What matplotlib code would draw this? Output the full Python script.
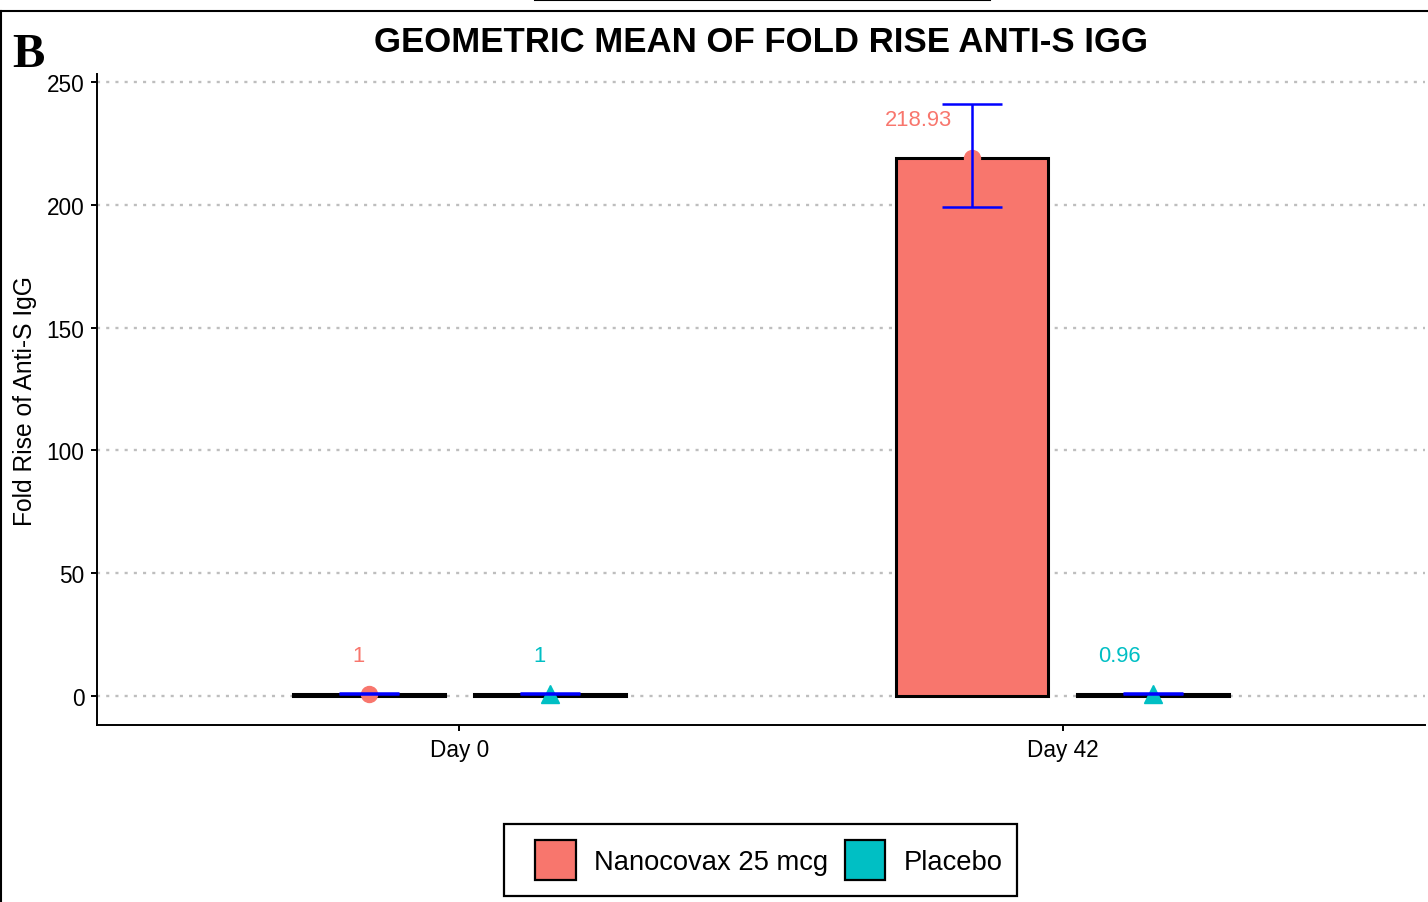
import matplotlib.pyplot as plt
from matplotlib.lines import Line2D
from matplotlib.patches import Patch, Rectangle
from matplotlib.transforms import offset_copy
import numpy as np

plt.rcParams['font.family'] = ['Liberation Sans', 'DejaVu Sans']

# ---------------- data ----------------
days = ['Day 0', 'Day 42']
groups = ['Nanocovax 25 mcg', 'Placebo']
gmfr_nano = [1.00, 218.93]
gmfr_plac = [1.00, 0.96]
ci_low_nano = [0.93, 199.2]
ci_high_nano = [1.07, 241.0]
ci_low_plac = [0.94, 0.90]
ci_high_plac = [1.06, 1.03]
labels_nano = ['1', '218.93']
labels_plac = ['1', '0.96']

col_nano = '#F8766D'
col_plac = '#00BFC4'

W, H = 1428, 903
fig = plt.figure(figsize=(W/100, H/100), dpi=100)
ax = fig.add_axes([97/W, 1-726/H, (1425-97)/W, (726-75)/H])

x = np.arange(1, len(days)+1)
dodge = 0.15
width = 0.252

series = [
    (gmfr_nano, ci_low_nano, ci_high_nano, labels_nano, col_nano, 'o', 11.5, -dodge),
    (gmfr_plac, ci_low_plac, ci_high_plac, labels_plac, col_plac, '^', 13, dodge),
]

texts = []
for vals, lo, hi, labs, col, mk, ms, off in series:
    xs = x + off
    vals = np.array(vals)
    ax.bar(xs, vals, width=width, color=col, edgecolor='black', linewidth=2.2, zorder=2)
    ax.plot(xs, vals, linestyle='none', marker=mk, markersize=ms, color=col, zorder=3)
    err = [vals - np.array(lo), np.array(hi) - vals]
    ax.errorbar(xs, vals, yerr=err, fmt='none', ecolor='#0000FF', elinewidth=1.8,
                capsize=21.5, capthick=1.8, zorder=4)
    for xi, v, lab in zip(xs, vals, labs):
        t = ax.text(xi, v, lab, color=col, fontsize=15.8, ha='right', va='center',
                    transform=offset_copy(ax.transData, fig, x=0, y=27.7, units='points'),
                    zorder=5)
        texts.append(t)

ax.set_xlim(0.4, 2.6)
ax.set_ylim(-11.81, 253.26)
ax.set_xticks(x)
ax.set_xticklabels(days)
ax.set_yticks([0, 50, 100, 150, 200, 250])

ax.yaxis.grid(True, color='#BEBEBE', linewidth=1.7, linestyle=(0, (1.3, 2.6)))
ax.set_axisbelow(True)

for s in ['top', 'right']:
    ax.spines[s].set_visible(False)
for s in ['left', 'bottom']:
    ax.spines[s].set_linewidth(1.4)
ax.tick_params(axis='both', length=4, width=1.4, labelsize=16.3, pad=5, colors='black')

fig.text(761/W, 1-42/H, 'GEOMETRIC MEAN OF FOLD RISE ANTI-S IGG',
         fontsize=25, fontweight='bold', ha='center', va='center')
fig.text(25/W, 1-401/H, 'Fold Rise of Anti-S IgG', fontsize=17.7,
         rotation=90, ha='center', va='center')
fig.text(12/W, 1-67/H, 'B', family='Liberation Serif', fontweight='bold',
         fontsize=35, ha='left', va='baseline')

handles = [Patch(facecolor=col_nano, edgecolor='black', linewidth=1.6),
           Patch(facecolor=col_plac, edgecolor='black', linewidth=1.6)]
leg = fig.legend(handles, groups, loc='center', bbox_to_anchor=(769/W, 1-861/H),
                 ncol=2, fontsize=19.7, frameon=False, handlelength=1.48,
                 handleheight=1.9, handletextpad=0.67, columnspacing=0.6,
                 borderpad=0, borderaxespad=0)

# panel border pieces
fig.add_artist(Line2D([1/W, 1/W], [0, 1-12/H], color='black', lw=1.5,
                      transform=fig.transFigure))
fig.add_artist(Line2D([0, 1], [1-12/H, 1-12/H], color='black', lw=1.5,
                      transform=fig.transFigure))
fig.add_artist(Line2D([535/W, 990/W], [1-0.5/H, 1-0.5/H], color='black', lw=1.5,
                      transform=fig.transFigure))

# shift value labels like ggplot hjust=1.3
fig.canvas.draw()
for t in texts:
    w = t.get_window_extent().width
    t.set_transform(offset_copy(ax.transData, fig, x=-0.3*w, y=27.7*fig.dpi/72, units='dots'))

# legend frame with ggplot-like padding (wider on the left)
bb = leg.get_window_extent()
pad_l, pad_r, pad_v = 31, 14, 16
fig.add_artist(Rectangle(((bb.x0 - pad_l)/W, (bb.y0 - pad_v)/H),
                         (bb.width + pad_l + pad_r)/W, (bb.height + 2*pad_v)/H,
                         transform=fig.transFigure, fill=False, edgecolor='black',
                         linewidth=1.6))

fig.savefig('out.png', dpi=100)
